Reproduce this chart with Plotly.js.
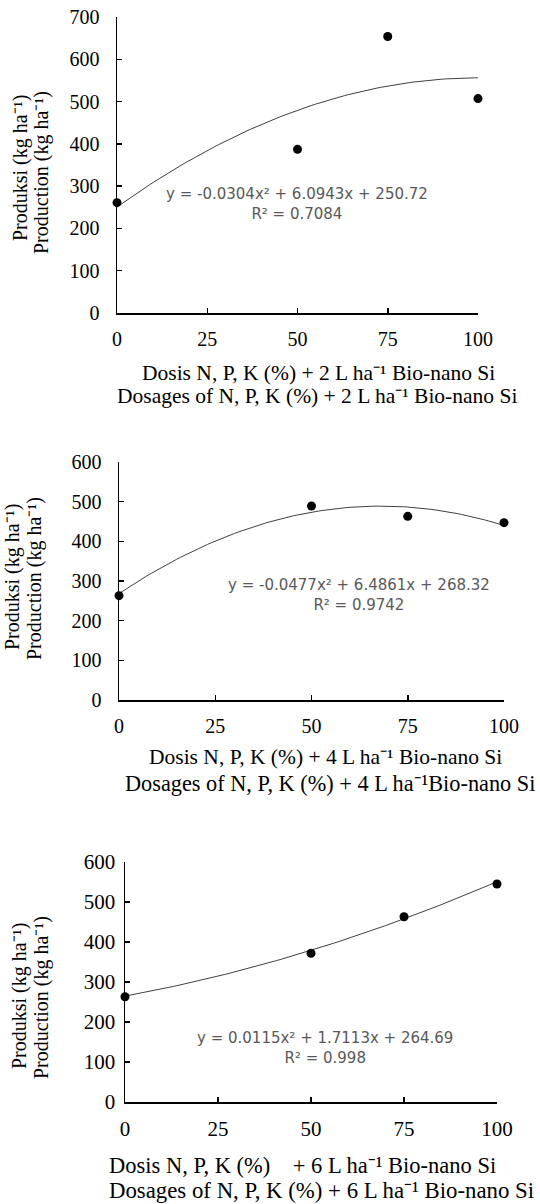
<!DOCTYPE html>
<html>
<head>
<meta charset="utf-8">
<script src="https://cdn.plot.ly/plotly-3.0.1.min.js"></script>
<style>html,body{margin:0;padding:0;background:#fff;}#chart{width:540px;height:1204px;}</style>
</head>
<body>
<div id="chart"></div>
<script>
// ---- data ----
const dosage = [0, 50, 75, 100];              // N, P, K dose (%)
const prod2L = [261, 387, 654, 507];          // production, 2 L/ha Bio-nano Si
const prod4L = [263, 489, 463, 447];          // production, 4 L/ha Bio-nano Si
const prod6L = [263, 372, 463, 545];          // production, 6 L/ha Bio-nano Si
// quadratic trend coefficients printed on the chart [a, b, c] : y = a x^2 + b x + c
const coef2L = [-0.0304, 6.0943, 250.72];
const coef4L = [-0.0477, 6.4861, 268.32];
const coef6L = [0.0115, 1.7113, 264.69];
const eqText = [
  "y = -0.0304x² + 6.0943x + 250.72<br>R² = 0.7084",
  "y = -0.0477x² + 6.4861x + 268.32<br>R² = 0.9742",
  "y = 0.0115x² + 1.7113x + 264.69<br>R² = 0.998"
];
const xTicks = [0, 25, 50, 75, 100];
const yTitle1 = "Produksi (kg ha⁻¹)";
const yTitle2 = "Production (kg ha⁻¹)";
const xTitles = [
  ["Dosis N, P, K (%) + 2 L ha⁻¹ Bio-nano Si", "Dosages of N, P, K (%) + 2 L ha⁻¹ Bio-nano Si"],
  ["Dosis N, P, K (%) + 4 L ha⁻¹ Bio-nano Si", "Dosages of N, P, K (%) + 4 L ha⁻¹Bio-nano Si"],
  ["Dosis N, P, K (%)\u00a0\u00a0\u00a0 + 6 L ha⁻¹ Bio-nano Si", "Dosages of N, P, K (%) + 6 L ha⁻¹ Bio-nano Si"]
];

// ---- layout helpers (pixel -> paper) ----
const W = 540, H = 1204;
const px = v => v / W;
const py = v => 1 - v / H;

const panels = [
  {y: prod2L, c: coef2L, ymax: 700, x0: 117, x1: 478, yTop: 17, yBot: 313, tf: 20, tsd: 12,
   eq: [297, 204], yt: [[20, 168], [42, 173]], xt: [[140, 373], [115, 396]], xf: [21.5, 21.5]},
  {y: prod4L, c: coef4L, ymax: 600, x0: 119, x1: 504, yTop: 462, yBot: 700, tf: 20, tsd: 12,
   eq: [359, 595], yt: [[12, 577], [34, 579]], xt: [[147, 757], [123, 783]], xf: [21.5, 22.3]},
  {y: prod6L, c: coef6L, ymax: 600, x0: 125, x1: 497, yTop: 862, yBot: 1102, tf: 21, tsd: 4,
   eq: [325, 1048], yt: [[19, 996], [41, 998]], xt: [[107, 1165], [107, 1190]], xf: [22.5, 22.8]}
];

const serif = "Liberation Serif";
const sans = "DejaVu Sans";
const traces = [];
const layout = {
  width: W, height: H,
  margin: {l: 0, r: 0, t: 0, b: 0},
  paper_bgcolor: "#fff", plot_bgcolor: "#fff",
  showlegend: false,
  font: {family: serif, size: 20, color: "#000"},
  annotations: []
};

panels.forEach((p, i) => {
  const n = i === 0 ? "" : String(i + 1);
  const xa = "x" + n, ya = "y" + n;
  // trend curve from the printed equation
  const tx = [], ty = [];
  for (let x = 0; x <= 100; x += 1) { tx.push(x); ty.push(p.c[0]*x*x + p.c[1]*x + p.c[2]); }
  traces.push({x: tx, y: ty, xaxis: xa, yaxis: ya, type: "scatter", mode: "lines",
    line: {color: "#404040", width: 1}, hoverinfo: "skip", cliponaxis: false});
  traces.push({x: dosage, y: p.y, xaxis: xa, yaxis: ya, type: "scatter", mode: "markers",
    marker: {color: "#000", size: 9}, cliponaxis: false});

  layout["xaxis" + n] = {
    domain: [px(p.x0), px(p.x1)], range: [0, 100], anchor: ya,
    tickvals: xTicks, ticktext: xTicks.map(String),
    ticks: "inside", ticklen: 5, tickwidth: 1.5, tickcolor: "#000",
    showline: true, linecolor: "#000", linewidth: 1.5, showgrid: false, zeroline: false,
    tickfont: {family: serif, size: p.tf, color: "#000"}, ticklabelstandoff: 7
  };
  const yv = []; for (let v = 0; v <= p.ymax; v += 100) yv.push(v);
  layout["yaxis" + n] = {
    domain: [py(p.yBot), py(p.yTop)], range: [0, p.ymax], anchor: xa,
    tickvals: yv, ticktext: yv.map(String),
    ticks: "inside", ticklen: 5, tickwidth: 1.5, tickcolor: "#000",
    showline: true, linecolor: "#000", linewidth: 1.5, showgrid: false, zeroline: false,
    tickfont: {family: serif, size: p.tf, color: "#000"}, ticklabelstandoff: p.tsd
  };

  layout.annotations.push({xref: "paper", yref: "paper", x: px(p.eq[0]), y: py(p.eq[1]),
    xanchor: "center", yanchor: "middle", showarrow: false, align: "center",
    text: eqText[i], font: {family: sans, size: 15, color: "#595959"}});
  [yTitle1, yTitle2].forEach((t, k) => {
    layout.annotations.push({xref: "paper", yref: "paper", x: px(p.yt[k][0]), y: py(p.yt[k][1]),
      xanchor: "center", yanchor: "middle", showarrow: false, textangle: -90,
      text: t, font: {family: serif, size: 20, color: "#000"}});
  });
  xTitles[i].forEach((t, k) => {
    layout.annotations.push({xref: "paper", yref: "paper", x: px(p.xt[k][0]), y: py(p.xt[k][1]),
      xanchor: "left", yanchor: "middle", showarrow: false, align: "left",
      text: t, font: {family: serif, size: p.xf[k], color: "#000"}});
  });
});

Plotly.newPlot("chart", traces, layout, {staticPlot: true, displayModeBar: false});
</script>
</body>
</html>
